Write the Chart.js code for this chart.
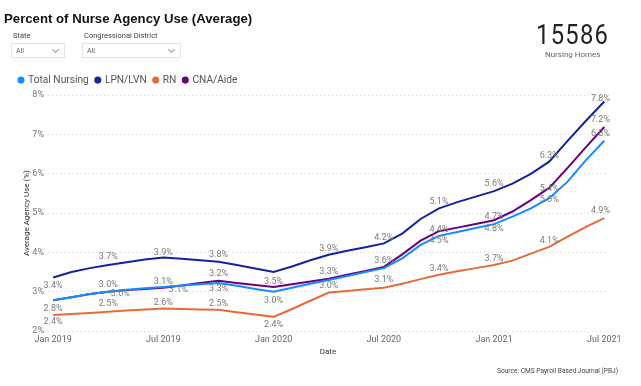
<!DOCTYPE html>
<html><head><meta charset="utf-8">
<script src="https://cdn.jsdelivr.net/npm/chart.js@4.4.1/dist/chart.umd.min.js"></script>
<style>
html,body{margin:0;padding:0;background:#fff;width:641px;height:386px;overflow:hidden;}
#wrap{position:relative;width:641px;height:386px;font-family:"Segoe UI",Roboto,"Open Sans",sans-serif;}
canvas{position:absolute;left:0;top:0;}
.t{position:absolute;white-space:nowrap;line-height:1;}
#title{left:4px;top:11px;font:bold 13.2px "Liberation Sans",Arial,sans-serif;color:#111;}
.flab{font-size:7.5px;color:#444;top:32px;}
.box{position:absolute;top:43px;height:15px;border:1px solid #e3e3e3;box-sizing:border-box;font-size:7px;color:#666;}
.box span{position:absolute;left:4px;top:3px;}
.box i{position:absolute;right:6px;top:3px;width:4px;height:4px;border-right:1px solid #999;border-bottom:1px solid #999;transform:rotate(45deg);}
#kpi{left:536px;top:18px;font:400 28px Roboto,sans-serif;color:#222;letter-spacing:1.5px;transform:scaleX(0.85);transform-origin:left top;}
#kpisub{left:545px;top:51px;font-size:8px;color:#666;}
#src{right:23px;top:368px;font-size:6.6px;color:#444;}
</style></head>
<body><div id="wrap">
<canvas id="c" width="641" height="386"></canvas>
<div class="t" id="title">Percent of Nurse Agency Use (Average)</div>
<div class="t flab" style="left:13px">State</div>
<div class="box" style="left:11px;width:54px"><span>All</span><i></i></div>
<div class="t flab" style="left:84px">Congressional District</div>
<div class="box" style="left:82px;width:99px"><span>All</span><i></i></div>
<div class="t" id="kpi">15586</div>
<div class="t" id="kpisub">Nursing Homes</div>
<div class="t" id="src">Source: CMS Payroll Based Journal (PBJ)</div>
</div>
<script>
// Monthly averages, Jan 2019 .. Jul 2021 (index = months since Jan 2019)
const seriesNames = ["Total Nursing", "LPN/LVN", "RN", "CNA/Aide"];
const totalNursing = [2.78,2.86,2.94,3.00,3.05,3.09,3.12,3.16,3.19,3.22,3.15,3.07,3.00,3.10,3.20,3.30,3.40,3.50,3.60,3.85,4.19,4.42,4.52,4.62,4.72,4.91,5.12,5.38,5.80,6.35,6.84];
const lpnLvn = [3.36,3.50,3.60,3.68,3.75,3.82,3.87,3.84,3.80,3.76,3.68,3.59,3.50,3.64,3.80,3.94,4.04,4.13,4.23,4.48,4.85,5.12,5.28,5.42,5.56,5.75,6.00,6.31,6.84,7.35,7.84];
const rn = [2.41,2.43,2.46,2.49,2.52,2.55,2.57,2.56,2.55,2.54,2.48,2.42,2.36,2.56,2.77,2.98,3.02,3.06,3.10,3.20,3.32,3.43,3.52,3.60,3.68,3.79,3.97,4.14,4.40,4.65,4.87];
const cnaAide = [2.78,2.86,2.94,3.00,3.04,3.07,3.10,3.16,3.22,3.28,3.22,3.17,3.12,3.19,3.26,3.33,3.43,3.53,3.63,3.95,4.30,4.54,4.63,4.72,4.82,5.04,5.33,5.64,6.15,6.68,7.19];
const xTickLabels = ["Jan 2019","Jul 2019","Jan 2020","Jul 2020","Jan 2021","Jul 2021"];
const yTicks = [2,3,4,5,6,7,8];

// data-label placement: [dataset, pointIndex, dx, dy]
const labelPlacement = [
  [1,0,0,8],[1,3,0,-8],[1,6,0,-5],[1,9,0,-7],[1,12,0,10],[1,15,0,-6],[1,18,0,-6],[1,21,0,-7],[1,24,0,-7],[1,27,0,-6],[1,30,0,-3],
  [3,0,0,8],[3,3,0,-7],[3,6,0,-6],[3,9,0,8],[3,15,0,-7],[3,18,0,-6],[3,21,0,10],[3,24,0,9],[3,27,0,12],[3,30,0,-7],
  [0,3,12,2],[0,6,15,3],[0,9,0,-9],[0,12,0,9],[0,21,0,-6],[0,24,0,-7],[0,27,0,-9],[0,30,0,-7],
  [2,0,0,7],[2,3,0,-8],[2,6,0,-6],[2,9,0,-6],[2,12,0,8],[2,15,0,-7],[2,18,0,-8],[2,21,0,-6],[2,24,0,-6],[2,27,0,-6],[2,30,0,-7]
];

const colors = ["#118DFF","#12239E","#E66C37","#6B007B"];
const seriesData = [totalNursing, lpnLvn, rn, cnaAide];
const FONT = '"Segoe UI", Roboto, "Open Sans", sans-serif';

const labelPlugin = {
  id: 'pointLabels',
  afterDatasetsDraw(chart) {
    const ctx = chart.ctx;
    ctx.save();
    ctx.font = '9px ' + FONT;
    ctx.fillStyle = '#7a7a7a';
    ctx.textAlign = 'center';
    ctx.textBaseline = 'middle';
    labelPlacement.forEach(([d, i, dx, dy]) => {
      const el = chart.getDatasetMeta(d).data[i];
      const txt = seriesData[d][i].toFixed(1) + '%';
      const w = ctx.measureText(txt).width;
      let x = el.x + dx;
      x = Math.min(x, chart.chartArea.right + 2 - w / 2);
      ctx.fillText(txt, x, el.y + dy);
    });
    ctx.restore();
  }
};

new Chart(document.getElementById('c'), {
  type: 'line',
  data: {
    datasets: seriesData.map((arr, k) => ({
      label: seriesNames[k],
      data: arr.map((v, i) => ({x: i, y: v})),
      borderColor: colors[k],
      backgroundColor: colors[k],
      borderWidth: 2,
      pointRadius: 0,
      pointHoverRadius: 0,
      tension: 0
    }))
  },
  options: {
    responsive: false,
    animation: false,
    layout: {padding: {left: 12, right: 33, top: 68, bottom: 27}},
    plugins: {
      tooltip: {enabled: false},
      legend: {
        position: 'top', align: 'start',
        labels: {usePointStyle: true, pointStyle: 'circle', boxWidth: 4, boxHeight: 3.6, padding: 7,
                 color: '#555', font: {size: 10.2, family: FONT}}
      }
    },
    scales: {
      x: {
        type: 'linear', min: -0.28, max: 30.2,
        afterFit(s) { s.height = 28; },
        afterBuildTicks(s) { s.ticks = xTickLabels.map((_, k) => ({value: k * 6})); },
        ticks: {callback: (v) => xTickLabels[v / 6], color: '#666', font: {size: 9, family: FONT}, padding: 3, maxRotation: 0},
        grid: {display: false, drawTicks: false, tickLength: 0},
        border: {display: false},
        title: {display: true, text: 'Date', color: '#333', font: {size: 8, family: FONT}, padding: {top: 0, bottom: 2}}
      },
      y: {
        min: 2, max: 8,
        afterFit(s) { s.width = 36; },
        afterBuildTicks(s) { s.ticks = yTicks.map(v => ({value: v})); },
        ticks: {callback: (v) => v + '%', color: '#777', font: {size: 9, family: FONT}, padding: 4},
        grid: {color: '#d6d6d6', lineWidth: 1, drawTicks: false},
        border: {display: false, dash: [1, 3]},
        title: {display: true, text: 'Average Agency Use (%)', color: '#333', font: {size: 8, family: FONT}, padding: {top: 10, bottom: 0}}
      }
    }
  },
  plugins: [labelPlugin]
});
</script>
</body></html>
